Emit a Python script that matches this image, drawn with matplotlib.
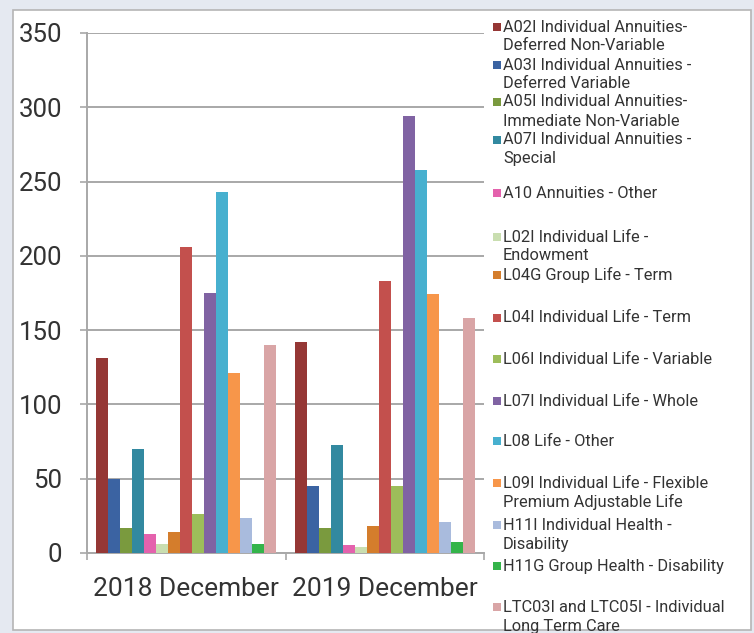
import matplotlib.pyplot as plt
from matplotlib.patches import Rectangle
import numpy as np

W, H = 754, 633

categories = ["2018 December", "2019 December"]
series = [
    "A02I Individual Annuities-\nDeferred Non-Variable",
    "A03I Individual Annuities -\nDeferred Variable",
    "A05I Individual Annuities-\nImmediate Non-Variable",
    "A07I Individual Annuities -\nSpecial",
    "A10 Annuities - Other",
    "L02I Individual Life -\nEndowment",
    "L04G Group Life - Term",
    "L04I Individual Life - Term",
    "L06I Individual Life - Variable",
    "L07I Individual Life - Whole",
    "L08 Life - Other",
    "L09I Individual Life - Flexible\nPremium Adjustable Life",
    "H11I Individual Health -\nDisability",
    "H11G Group Health - Disability",
    "LTC03I and LTC05I - Individual\nLong Term Care",
]
values_2018 = [131, 50, 17, 70, 13, 6, 14, 206, 26, 175, 243, 121, 23.5, 6, 140]
values_2019 = [142, 45, 16.5, 73, 5.5, 4, 18, 183, 45, 294, 258, 174, 21, 7.5, 158]
colors = ["#953735", "#3b63a2", "#7a9a3e", "#3289a0", "#e462ad",
          "#c9deb0", "#d47d2c", "#c3504d", "#9dbd5a", "#8063a3",
          "#47b0cf", "#f7964a", "#a9bbdd", "#34b44a", "#d9a5a6"]
yticks = [0, 50, 100, 150, 200, 250, 300, 350]

# legend layout (pixel rows of first text line)
legend_rows = [27, 65, 102, 140, 193, 237, 275, 318, 359, 401, 441, 483, 525, 566, 607]

fig = plt.figure(figsize=(W / 100, H / 100), dpi=100)
fig.patch.set_facecolor("#e5e9f1")

def px(x, y):
    return x / W, 1 - y / H

# white panel
x0, y0 = px(13, 630)
x1, y1 = px(751, 10)
fig.patches.append(Rectangle((x0, y0), x1 - x0, y1 - y0, transform=fig.transFigure,
                             facecolor="white", edgecolor="#b5b5b5", lw=1.2, zorder=-1))

ax = fig.add_axes([87 / W, 1 - 553 / H, (484 - 87) / W, (553 - 33) / H])
ax.set_facecolor("none")
ax.set_zorder(2)

n = len(series)
group = 0.905
bw = group / n
xc = np.arange(len(categories))
vals = np.array([values_2018, values_2019])
for i in range(n):
    ax.bar(xc + (i - (n - 1) / 2) * bw, vals[:, i], width=bw, color=colors[i],
           zorder=3, linewidth=0)

ax.set_xlim(-0.5, 1.5)
ax.set_ylim(0, 350)
ax.set_yticks(yticks)
ax.set_yticklabels([str(v) for v in yticks])
ax.yaxis.grid(True, color="#a8a8a8", lw=1.4, zorder=1)
ax.set_axisbelow(True)

ax.set_xticks(xc)
ax.set_xticklabels(categories)
ax.set_xticks([-0.5, 0.5, 1.5], minor=True)
ax.tick_params(axis="x", which="major", length=0, pad=17, labelsize=19, labelcolor="#333333")
ax.tick_params(axis="x", which="minor", length=5, width=1.2, color="#a8a8a8", direction="out")
ax.tick_params(axis="y", length=5, width=1.2, color="#a8a8a8", pad=13,
               labelsize=18.5, labelcolor="#333333")
for lab in ax.get_xticklabels() + ax.get_yticklabels():
    lab.set_family("Roboto")

for s in ["top", "right"]:
    ax.spines[s].set_visible(False)
for s in ["left", "bottom"]:
    ax.spines[s].set_color("#a8a8a8")
    ax.spines[s].set_linewidth(1.4)

# legend drawn by hand so each entry keeps its own slot
for i, lab in enumerate(series):
    r = legend_rows[i]
    mx, my = px(493, r + 4)
    fig.patches.append(Rectangle((mx, my), 8 / W, 8 / H, transform=fig.transFigure,
                                 facecolor=colors[i], edgecolor="none", zorder=5))
    for k, line in enumerate(lab.split("\n")):
        tx, ty = px(503, r + k * 19)
        fig.text(tx, ty, line, ha="left", va="center", fontsize=11.8,
                 family="Roboto", color="#333333")

fig.savefig("out.png", dpi=100, facecolor=fig.get_facecolor())
